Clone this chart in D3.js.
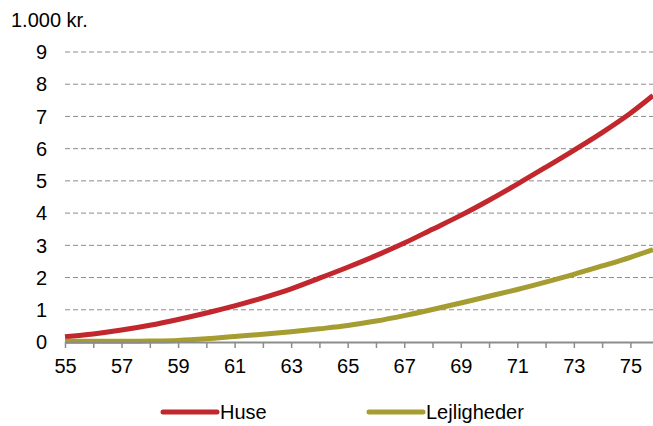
<!DOCTYPE html>
<html>
  <head>
    <script src="https://cdnjs.cloudflare.com/ajax/libs/d3/7.8.5/d3.min.js"></script>
<style>
  body { margin: 0; background: #fff; }
  text { font-family: "Liberation Sans", Arial, sans-serif; fill: #000; }
</style>
  </head>
  <body>
    <div id="vis"></div>
    <script type="text/javascript">

        // alder (x) og værdi i 1.000 kr.
        const ages = [55, 56, 57, 58, 59, 60, 61, 62, 63, 64, 65, 66, 67, 68, 69, 70, 71, 72, 73, 74, 75, 75.8];
        const huse = [0.16, 0.25, 0.37, 0.52, 0.70, 0.90, 1.12, 1.37, 1.65, 1.98, 2.32, 2.68, 3.07, 3.50, 3.93, 4.40, 4.90, 5.42, 5.95, 6.50, 7.10, 7.65];
        const lejligheder = [0.02, 0.02, 0.02, 0.03, 0.05, 0.10, 0.17, 0.24, 0.32, 0.41, 0.51, 0.65, 0.82, 1.01, 1.21, 1.42, 1.63, 1.86, 2.10, 2.36, 2.63, 2.87];
        const xTickLabels = [55, 57, 59, 61, 63, 65, 67, 69, 71, 73, 75];
        const yTicks = [0, 1, 2, 3, 4, 5, 6, 7, 8, 9];
        const seriesNames = ["Huse", "Lejligheder"];
        const colors = ["#c1272d", "#a59d32"];

        const width = 653;
        const height = 426;
        const svg = d3.select("#vis").append("svg")
            .attr("width", width)
            .attr("height", height);

        var x = d3.scaleLinear().domain([55, 75.8]).range([65, 653]);
        var y = d3.scaleLinear().domain([0, 9]).range([342, 52]);

        // gitterlinjer
        svg.append("g")
            .selectAll("line")
            .data(yTicks.filter(d => d > 0))
            .join("line")
            .attr("x1", x(55)).attr("x2", width)
            .attr("y1", d => y(d)).attr("y2", d => y(d))
            .attr("stroke", "#8c8c8c")
            .attr("stroke-width", 1)
            .attr("stroke-dasharray", "5,3");

        // y-akse labels
        svg.append("g")
            .selectAll("text")
            .data(yTicks)
            .join("text")
            .attr("x", 47)
            .attr("y", d => y(d))
            .attr("dy", "0.36em")
            .attr("text-anchor", "end")
            .style("font-size", "20px")
            .text(d => d);

        svg.append("text")
            .attr("x", 11).attr("y", 27)
            .style("font-size", "20px")
            .text("1.000 kr.");

        // linjer
        var line = d3.line()
            .x((d, i) => x(ages[i]))
            .y(d => y(d))
            .curve(d3.curveMonotoneX);

        svg.append("g")
            .selectAll("path")
            .data([huse, lejligheder])
            .join("path")
            .attr("fill", "none")
            .attr("stroke", (d, i) => colors[i])
            .attr("stroke-width", 5)
            .attr("d", line);

        // x-akse
        var xAxis = d3.axisBottom(x)
            .tickValues(d3.range(55, 76))
            .tickSize(6)
            .tickSizeOuter(0)
            .tickFormat(d => xTickLabels.includes(d) ? d : "");
        var gx = svg.append("g")
            .attr("transform", "translate(0," + y(0) + ")")
            .call(xAxis);
        gx.select(".domain").attr("stroke", "#8c8c8c").attr("stroke-width", 2);
        gx.selectAll(".tick line").attr("stroke", "#8c8c8c").attr("stroke-width", 1.5);
        gx.selectAll(".tick text")
            .attr("y", 17)
            .style("font-size", "20px")
            .style("font-family", "'Liberation Sans', Arial, sans-serif")
            .attr("fill", "#000");

        // legende
        var legendX = [163, 369];
        var legend = svg.append("g")
            .selectAll("g")
            .data(seriesNames)
            .join("g")
            .attr("transform", (d, i) => "translate(" + legendX[i] + ",412)");
        legend.append("line")
            .attr("x1", 0).attr("x2", 54)
            .attr("stroke", (d, i) => colors[i])
            .attr("stroke-width", 5)
            .attr("stroke-linecap", "round");
        legend.append("text")
            .attr("x", 57)
            .attr("dy", "0.36em")
            .style("font-size", "20px")
            .text(d => d);

    </script>
  </body>
</html>
